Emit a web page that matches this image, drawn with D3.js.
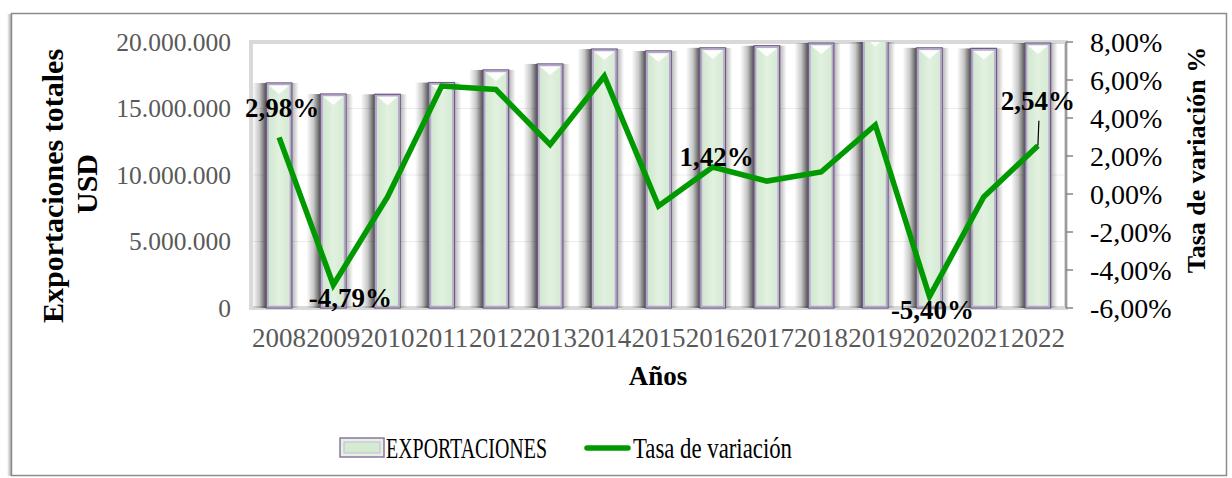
<!DOCTYPE html>
<html><head><meta charset="utf-8">
<script src="https://cdn.jsdelivr.net/npm/d3@7"></script>
<style>
html,body{margin:0;padding:0;background:#fff;}
svg{display:block;}
text{font-family:"Liberation Serif","Times New Roman",serif;}
</style></head>
<body><svg id="c" width="1232" height="478"></svg>
<script>
const years = ["2008","2009","2010","2011","2012","2013","2014","2015","2016","2017","2018","2019","2020","2021","2022"];
const exportaciones = [16920000,16090000,16070000,16950000,17900000,18350000,19470000,19330000,19560000,19720000,19920000,20500000,19560000,19520000,19920000];
const tasaVariacion = [0.0298,-0.0479,-0.0016,0.0568,0.0550,0.0260,0.0620,-0.0063,0.0142,0.0068,0.0116,0.0363,-0.0540,-0.0016,0.0254];
const leftTicks = [0,5000000,10000000,15000000,20000000];
const rightTicks = [-0.06,-0.04,-0.02,0,0.02,0.04,0.06,0.08];
const labelled = {"2008":"2,98%","2009":"-4,79%","2016":"1,42%","2020":"-5,40%","2022":"2,54%"};
const legendLabels = ["EXPORTACIONES","Tasa de variación"];

const svg = d3.select("#c");
const defs = svg.append("defs");
const loc = d3.formatLocale({decimal:",",thousands:".",grouping:[3],currency:["",""],minus:"-",percent:"%"});
const fmtL = loc.format(",");
const fmtR = loc.format(".2%");

const P = {l:252, r:1065, t:42, b:308};
const x = d3.scaleBand().domain(years).range([P.l, P.r]).paddingInner(0.53).paddingOuter(0.265);
const yL = d3.scaleLinear().domain([0,20000000]).range([P.b,P.t]);
const yR = d3.scaleLinear().domain([-0.06,0.08]).range([P.b,P.t]);

// gradients
const gs = defs.append("linearGradient").attr("id","shL").attr("x1",0).attr("x2",1);
gs.append("stop").attr("offset",0).attr("stop-color","#000").attr("stop-opacity",0);
gs.append("stop").attr("offset",0.5).attr("stop-color","#000").attr("stop-opacity",0.22);
gs.append("stop").attr("offset",1).attr("stop-color","#000").attr("stop-opacity",0.7);
const gr = defs.append("linearGradient").attr("id","shR").attr("x1",0).attr("x2",1);
gr.append("stop").attr("offset",0).attr("stop-color","#000").attr("stop-opacity",0.3);
gr.append("stop").attr("offset",1).attr("stop-color","#000").attr("stop-opacity",0);
const gf = defs.append("linearGradient").attr("id","barF").attr("x1",0).attr("x2",1);
gf.append("stop").attr("offset",0).attr("stop-color","#cde5cb");
gf.append("stop").attr("offset",0.5).attr("stop-color","#e2f1e0");
gf.append("stop").attr("offset",1).attr("stop-color","#d3e9d1");
const gfr = defs.append("linearGradient").attr("id","frm").attr("x1",0).attr("x2",1);
gfr.append("stop").attr("offset",0).attr("stop-color","#fff");
gfr.append("stop").attr("offset",1).attr("stop-color","#9a9a9a");
defs.append("clipPath").attr("id","plotClip").append("rect")
  .attr("x",P.l-30).attr("y",P.t).attr("width",P.r-P.l+60).attr("height",P.b-P.t+4);

// outer frame
svg.append("rect").attr("x",7).attr("y",14).attr("width",5).attr("height",462).attr("fill","url(#frm)");
svg.append("rect").attr("x",11.5).attr("y",13.5).attr("width",1215).attr("height",462)
  .attr("fill","none").attr("stroke","#8c8c8c").attr("stroke-width",1.5);

// plot area frame
svg.append("rect").attr("x",P.l-1).attr("y",P.t).attr("width",P.r-P.l+2).attr("height",P.b-P.t)
  .attr("fill","#fff").attr("stroke","#d9d9d9").attr("stroke-width",4);

// gridlines
svg.append("g").selectAll("line").data(leftTicks.filter(d=>d>0 && d<20000000)).join("line")
  .attr("x1",P.l+1).attr("x2",P.r-1).attr("y1",d=>yL(d)).attr("y2",d=>yL(d))
  .attr("stroke","#ececec").attr("stroke-width",1);

// bars
const bw = x.bandwidth();
const bars = svg.append("g").attr("clip-path","url(#plotClip)").selectAll("g").data(years).join("g");
bars.append("rect").attr("x",d=>x(d)-14).attr("width",14)
  .attr("y",(d,i)=>yL(exportaciones[i])).attr("height",(d,i)=>P.b-yL(exportaciones[i]))
  .attr("fill","url(#shL)");
bars.append("rect").attr("x",d=>x(d)+bw).attr("width",7)
  .attr("y",(d,i)=>yL(exportaciones[i])).attr("height",(d,i)=>P.b-yL(exportaciones[i]))
  .attr("fill","url(#shR)");
bars.append("rect").attr("x",d=>x(d)).attr("width",bw)
  .attr("y",(d,i)=>yL(exportaciones[i])).attr("height",(d,i)=>P.b-yL(exportaciones[i]))
  .attr("fill","url(#barF)").attr("stroke","#6f5d86").attr("stroke-width",1.3);
bars.append("rect").attr("x",d=>x(d)+1.5).attr("width",bw-3)
  .attr("y",(d,i)=>yL(exportaciones[i])+1.5).attr("height",(d,i)=>P.b-yL(exportaciones[i])-3)
  .attr("fill","none").attr("stroke","#b8a6d0").attr("stroke-width",1.5);
bars.append("path").attr("d",(d,i)=>{
    const x0=x(d)+2.5, x1=x(d)+bw-2.5, t=yL(exportaciones[i])+2.5;
    return `M${x0},${t}L${x1},${t}L${(x0+x1)/2},${t+(x1-x0)/2.4}Z`;})
  .attr("fill","#fff").attr("opacity",0.9);

// right axis
const ra = svg.append("g");
ra.append("line").attr("x1",P.r+1).attr("x2",P.r+1).attr("y1",P.t).attr("y2",P.b)
  .attr("stroke","#868686").attr("stroke-width",1.5);
ra.selectAll("line.t").data(rightTicks).join("line").attr("class","t")
  .attr("x1",P.r+1).attr("x2",P.r+8).attr("y1",d=>yR(d)).attr("y2",d=>yR(d))
  .attr("stroke","#868686").attr("stroke-width",1.5);
ra.selectAll("text").data(rightTicks).join("text")
  .attr("x",1090).attr("y",d=>yR(d)).attr("dy","0.34em")
  .attr("font-size",28).attr("fill","#000").text(d=>fmtR(d));

// left tick labels
svg.append("g").selectAll("text").data(leftTicks).join("text")
  .attr("x",231).attr("y",d=>yL(d)).attr("dy","0.34em").attr("text-anchor","end")
  .attr("font-size",25.5).attr("fill","#595959").text(d=>fmtL(d));

// year labels
svg.append("g").selectAll("text").data(years).join("text")
  .attr("x",d=>x(d)+bw/2).attr("y",347).attr("text-anchor","middle")
  .attr("font-size",27).attr("fill","#595959").text(d=>d);

// line
const cx = d=>x(d)+bw/2;
svg.append("path").datum(years)
  .attr("d",d3.line().x(d=>cx(d)).y((d,i)=>yR(tasaVariacion[i])))
  .attr("fill","none").attr("stroke","#009a00").attr("stroke-width",5.5).attr("stroke-linejoin","miter");

// data labels
const off = {"2008":[3,-20],"2009":[17,22],"2016":[4,-1],"2020":[3,22],"2022":[0,-36]};
const lab = svg.append("g");
years.forEach((yr,i)=>{
  if(!labelled[yr]) return;
  lab.append("text").attr("x",cx(yr)+off[yr][0]).attr("y",yR(tasaVariacion[i])+off[yr][1])
    .attr("text-anchor","middle").attr("font-size",27).attr("font-weight","bold").attr("fill","#000")
    .text(labelled[yr]);
});
{
  const i = years.indexOf("2022");
  lab.append("line").attr("x1",cx("2022")+1).attr("x2",cx("2022")).attr("y1",yR(tasaVariacion[i])-25).attr("y2",yR(tasaVariacion[i]))
    .attr("stroke","#000").attr("stroke-width",1.2);
}

// axis titles
svg.append("text").attr("transform","translate(63,186) rotate(-90)").attr("text-anchor","middle")
  .attr("font-size",30).attr("font-weight","bold").text("Exportaciones totales");
svg.append("text").attr("transform","translate(97,184) rotate(-90)").attr("text-anchor","middle")
  .attr("font-size",30).attr("font-weight","bold").text("USD");
svg.append("text").attr("transform","translate(1205,160) rotate(-90)").attr("text-anchor","middle")
  .attr("font-size",26).attr("font-weight","bold").text("Tasa de variación %");
svg.append("text").attr("x",658).attr("y",385).attr("text-anchor","middle")
  .attr("font-size",27).attr("font-weight","bold").text("Años");

// legend
const lg = svg.append("g");
lg.append("rect").attr("x",340).attr("y",438).attr("width",44).attr("height",19)
  .attr("fill","#e3f2e1").attr("stroke","#8a76a3").attr("stroke-width",1.5);
lg.append("rect").attr("x",344).attr("y",442).attr("width",36).attr("height",11)
  .attr("fill","#d4ebd2").attr("stroke","#c7b8dc").attr("stroke-width",1);
lg.append("text").attr("x",386).attr("y",458).attr("font-size",29)
  .attr("textLength",161).attr("lengthAdjust","spacingAndGlyphs").text(legendLabels[0]);
lg.append("line").attr("x1",587).attr("x2",628).attr("y1",448).attr("y2",448)
  .attr("stroke","#009a00").attr("stroke-width",5.5).attr("stroke-linecap","round");
lg.append("text").attr("x",633).attr("y",458).attr("font-size",29)
  .attr("textLength",159).attr("lengthAdjust","spacingAndGlyphs").text(legendLabels[1]);
</script></body></html>
